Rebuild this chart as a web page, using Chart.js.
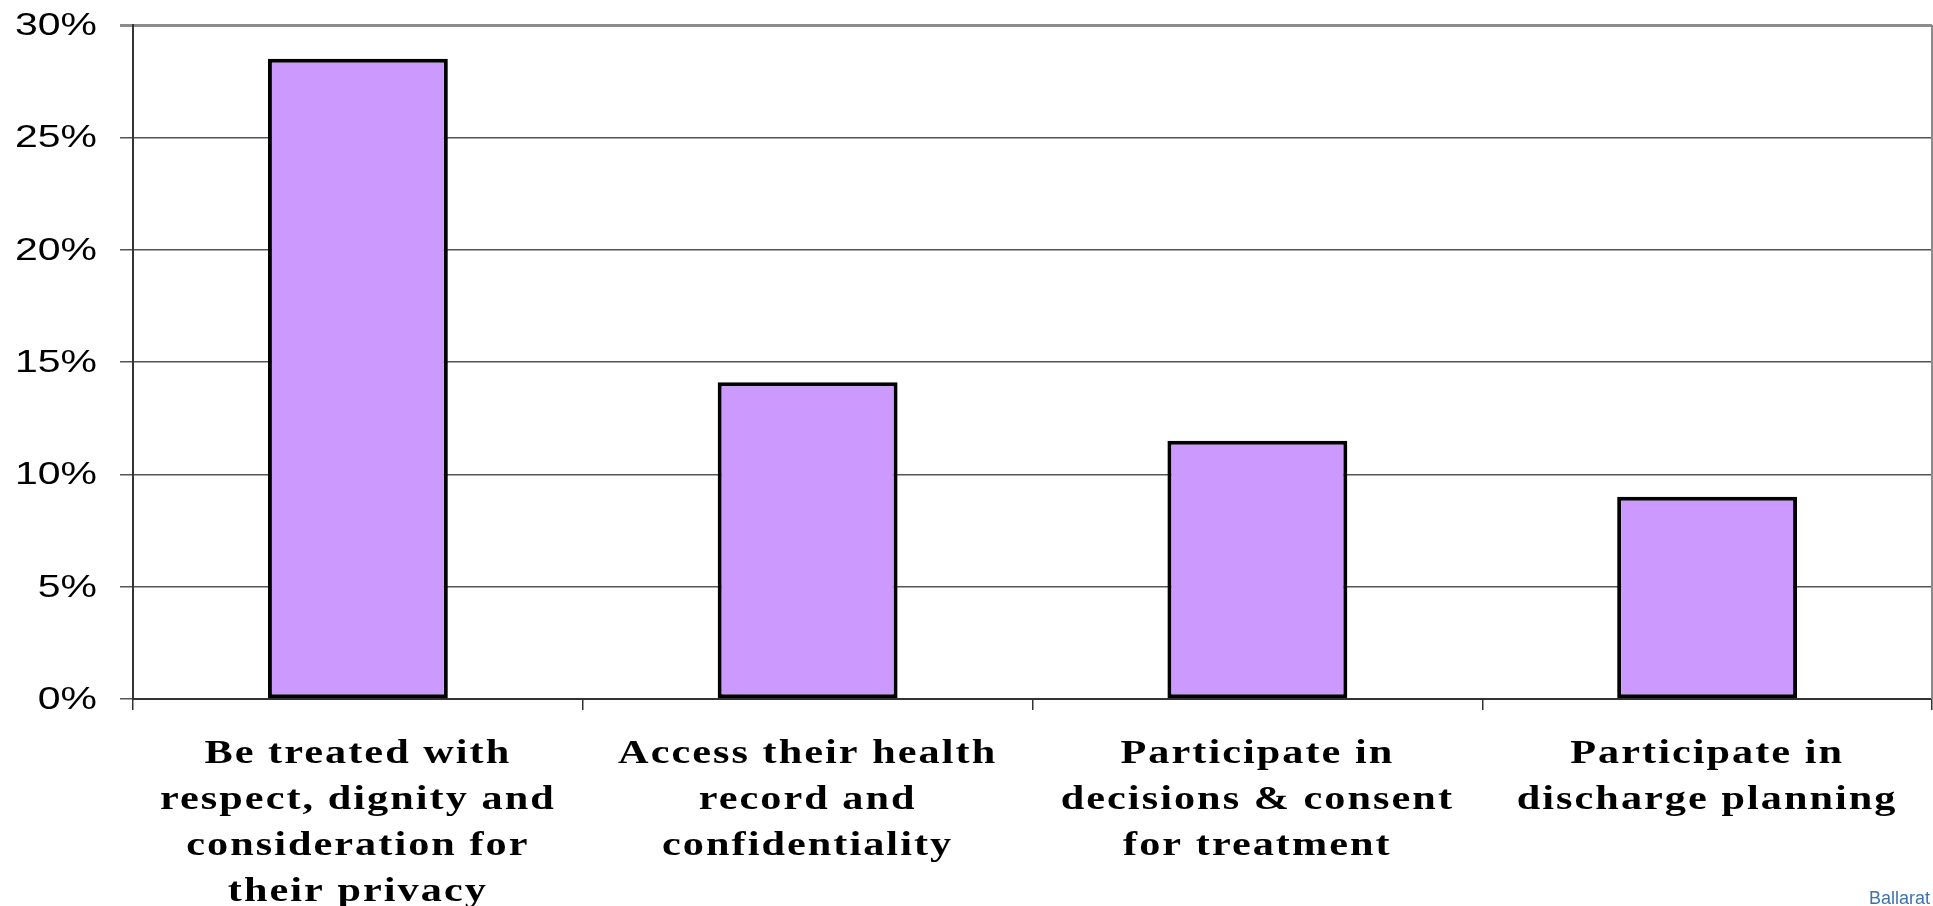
<!DOCTYPE html>
<html>
<head>
<meta charset="utf-8">
<script src="https://cdn.jsdelivr.net/npm/chart.js@4/dist/chart.umd.min.js"></script>
<style>
  html, body { margin: 0; padding: 0; background: #ffffff; }
  canvas { display: block; }
</style>
</head>
<body>
<canvas id="rights" width="1933" height="906"></canvas>
<script>
// Patient rights most often raised (share of responses)
const categories = [
  ['Be treated with', 'respect, dignity and', 'consideration for', 'their privacy'],
  ['Access their health', 'record and', 'confidentiality'],
  ['Participate in', 'decisions & consent', 'for treatment'],
  ['Participate in', 'discharge planning']
];
const shares = [28.5, 14.1, 11.5, 9.0];
const axisMin = 0;
const axisMax = 30;
const axisStep = 5;
const footerText = 'Ballarat';

// Text in this layout is drawn slightly widened horizontally
const WIDEN = 1.28;

const textPlugin = {
  id: 'axisText',
  afterDraw(chart) {
    const ctx = chart.ctx;
    const xs = chart.scales.x;
    const ys = chart.scales.y;
    const area = chart.chartArea;

    ctx.save();
    // right-hand frame line
    ctx.strokeStyle = '#8c8c8c';
    ctx.lineWidth = 2;
    ctx.beginPath();
    ctx.moveTo(area.right, area.top);
    ctx.lineTo(area.right, area.bottom);
    ctx.stroke();

    // y tick labels
    ctx.fillStyle = '#000000';
    ctx.font = '32px "Liberation Sans", Arial, sans-serif';
    ctx.textAlign = 'right';
    ctx.textBaseline = 'alphabetic';
    ys.ticks.forEach((t, i) => {
      const py = ys.getPixelForTick(i);
      ctx.save();
      ctx.translate(ys.right - 36, py + 10);
      ctx.scale(WIDEN, 1);
      ctx.fillText(t.value + '%', 0, 0);
      ctx.restore();
    });

    // category labels
    ctx.font = 'bold 33px "Liberation Serif", "Times New Roman", serif';
    ctx.textAlign = 'center';
    ctx.letterSpacing = '1.6px';
    chart.data.labels.forEach((lines, i) => {
      const px = xs.getPixelForTick(i);
      lines.forEach((ln, j) => {
        ctx.save();
        ctx.translate(px, xs.top + 64 + j * 46);
        ctx.scale(WIDEN, 1);
        ctx.fillText(ln, 0, 0);
        ctx.restore();
      });
    });
    ctx.letterSpacing = '0px';

    // footer mark
    ctx.fillStyle = '#3f72ad';
    ctx.font = '18px "Liberation Sans", Arial, sans-serif';
    ctx.textAlign = 'left';
    ctx.fillText(footerText, chart.width - 64, chart.height - 2);
    ctx.restore();
  }
};

new Chart(document.getElementById('rights'), {
  type: 'bar',
  data: {
    labels: categories,
    datasets: [{
      data: shares,
      backgroundColor: '#cc99ff',
      borderColor: '#000000',
      borderWidth: 4,
      borderSkipped: false,
      categoryPercentage: 1.0,
      barPercentage: 0.4
    }]
  },
  options: {
    responsive: false,
    animation: false,
    layout: { padding: { top: 25, right: 1, left: 0, bottom: 0 } },
    plugins: {
      legend: { display: false },
      tooltip: { enabled: false }
    },
    scales: {
      x: {
        offset: true,
        grid: {
          offset: true,
          drawOnChartArea: false,
          drawTicks: true,
          tickLength: 11,
          color: '#333333',
          lineWidth: 1.5
        },
        border: { color: '#333333', width: 2 },
        ticks: { display: false },
        afterFit(scale) { scale.height = 207; }
      },
      y: {
        min: axisMin,
        max: axisMax,
        ticks: { display: false, stepSize: axisStep },
        grid: {
          drawTicks: true,
          tickLength: 13,
          color: ctx => (ctx.tick && ctx.tick.value === axisMax) ? '#8c8c8c' : '#555555',
          lineWidth: ctx => (ctx.tick && ctx.tick.value === axisMax) ? 3 : 1.5
        },
        border: { color: '#333333', width: 2 },
        afterFit(scale) { scale.width = 133; }
      }
    }
  },
  plugins: [textPlugin]
});
</script>
</body>
</html>
